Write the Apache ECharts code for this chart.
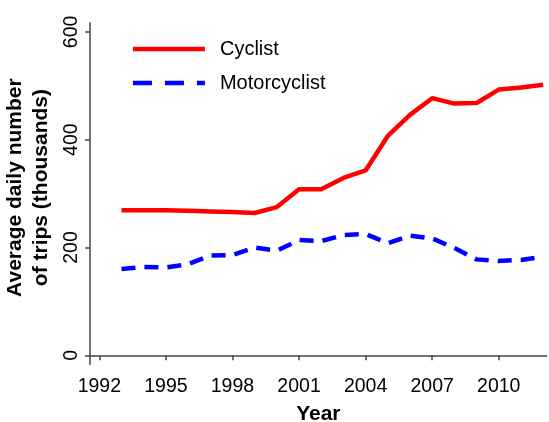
<!DOCTYPE html>
<html>
<head>
<meta charset="utf-8">
<script src="https://cdn.jsdelivr.net/npm/echarts@6/dist/echarts.min.js"></script>
<style>
html,body{margin:0;padding:0;background:#fff;}
#c{width:549px;height:422px;}
</style>
</head>
<body>
<div id="c"></div>
<script>
var years = [1993,1994,1995,1996,1997,1998,1999,2000,2001,2002,2003,2004,2005,2006,2007,2008,2009,2010,2011,2012];
var cyclist = [269,269,269,268,267,266,264,275,308,308,329,343,407,446,477,467,468,493,497,502];
var motorcyclist = [160,164,163,169,185,186,200,194,214,212,223,225,208,222,217,199,178,175,177,183];
var xTicks = [1992,1995,1998,2001,2004,2007,2010];
var yTicks = [0,200,400,600];

var chart = echarts.init(document.getElementById('c'), null, {renderer:'canvas'});
function pairs(xs, ys){ return xs.map(function(x,i){ return [x, ys[i]]; }); }
var axisColor = '#444';
var font = 'Liberation Sans, Arial, sans-serif';
chart.setOption({
  animation: false,
  grid: {left: 90, top: 22.7, right: 2.3, bottom: 57.5, containLabel: false, outerBoundsMode: 'none'},
  legend: {
    orient: 'vertical', left: 125.7, top: 34, padding: 5,
    itemWidth: 72, itemHeight: 14, itemGap: 14,
    itemStyle: {opacity: 0},
    lineStyle: {width: 4.5},
    textStyle: {fontFamily: font, fontSize: 20, color: '#000', padding: [0,0,0,10]},
    data: [
      {name: 'Cyclist'},
      {name: 'Motorcyclist', lineStyle: {width: 4.5, type: [19, 13]}}
    ]
  },
  xAxis: {
    type: 'value', min: 1991.58, max: 2012.16,
    name: 'Year', nameLocation: 'middle', nameGap: 39,
    nameTextStyle: {fontFamily: font, fontSize: 21, fontWeight: 'bold', color: '#000', verticalAlign: 'top'},
    axisLine: {show: true, lineStyle: {color: axisColor, width: 1.5}},
    axisTick: {show: true, length: 5, lineStyle: {color: axisColor, width: 1.5}, customValues: xTicks},
    axisLabel: {customValues: xTicks, margin: 12, fontFamily: font, fontSize: 19.5, color: '#000', formatter: function(v){ return String(v); }},
    splitLine: {show: false}
  },
  yAxis: {
    type: 'value', min: -17, max: 617,
    name: 'Average daily number\nof trips (thousands)', nameLocation: 'middle', nameGap: 29,
    nameTextStyle: {fontFamily: font, fontSize: 21, fontWeight: 'bold', color: '#000', lineHeight: 26, padding: [0,0,0,12]},
    axisLine: {show: true, lineStyle: {color: axisColor, width: 1.5}},
    axisTick: {show: true, length: 5, lineStyle: {color: axisColor, width: 1.5}, customValues: yTicks},
    axisLabel: {customValues: yTicks, rotate: 90, margin: 8, fontFamily: font, fontSize: 19.5, color: '#000'},
    splitLine: {show: false}
  },
  series: [
    {name: 'Cyclist', type: 'line', data: pairs(years, cyclist), symbol: 'none', showSymbol: false,
     lineStyle: {color: '#ff0000', width: 4.5}, itemStyle: {color: '#ff0000'}},
    {name: 'Motorcyclist', type: 'line', data: pairs(years, motorcyclist), symbol: 'none', showSymbol: false,
     lineStyle: {color: '#0000ff', width: 4.5, type: [14, 9]}, itemStyle: {color: '#0000ff'}}
  ]
});
</script>
</body>
</html>
